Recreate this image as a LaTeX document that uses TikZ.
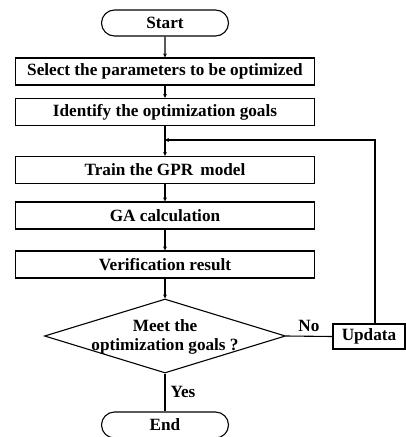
\documentclass[tikz,border=0pt]{standalone}
\usepackage{fontspec}
\setmainfont{Liberation Serif}
\usetikzlibrary{shapes.geometric,shapes.misc,arrows.meta}
\begin{document}
\begin{tikzpicture}[x=1pt,y=-1pt,
  every node/.style={font=\fontsize{17.2}{19}\selectfont\bfseries},
  proc/.style={draw,line width=1.1pt,minimum width=299pt,minimum height=27pt,inner sep=0pt},
  term/.style={draw,line width=1.1pt,rounded rectangle,minimum width=127pt,minimum height=26pt,inner sep=0pt},
  dec/.style={draw,line width=1.1pt,diamond,minimum width=241pt,minimum height=74pt,inner sep=0pt},
  dectext/.style={align=center,inner sep=0pt,font=\fontsize{17.2}{19.5}\selectfont\bfseries},
  conn/.style={line width=1.1pt,-{Stealth[length=4pt,width=4pt]}},
  plain/.style={line width=1.1pt},
  lbl/.style={inner sep=0pt}]
\useasboundingbox (0,0) rectangle (405,437);
\node[term] (start) at (165,23) {Start};
\node[proc] (sel) at (165,71.5) {Select the parameters to be optimized};
\node[proc] (ide) at (165,112) {Identify the optimization goals};
\node[proc] (tra) at (165,170) {Train the GPR\, model};
\node[proc] (ga) at (165,215.5) {GA calculation};
\node[proc] (ver) at (165,264.5) {Verification result};
\node[dec] (meet) at (165,336) {};
\node[dectext] (meettxt) at (165,337) {Meet the\\optimization goals ?};
\node[draw,line width=1.1pt,minimum width=72pt,minimum height=25pt,inner sep=0pt] (upd) at (369,336.5) {Updata};
\node[term] (end) at (165,425) {End};
\coordinate (fb) at (165,140);
\coordinate (corner) at (375,140);
\node[lbl] (no) at (309,326) {No};
\node[lbl] (yes) at (183,392) {Yes};
\draw[conn] (start) -- (sel);
\draw[conn] (sel) -- (ide);
\draw[plain] (ide) -- (fb);
\draw[conn] (fb) -- (tra);
\draw[conn] (tra) -- (ga);
\draw[conn] (ga) -- (ver);
\draw[conn] (ver) -- (meet);
\draw[plain] (meet.east) -- (upd.west);
\draw[conn] (upd.north -| corner) -- (corner) -- (fb);
\draw[plain] (meet.south) -- (end.north);
\end{tikzpicture}
\end{document}
